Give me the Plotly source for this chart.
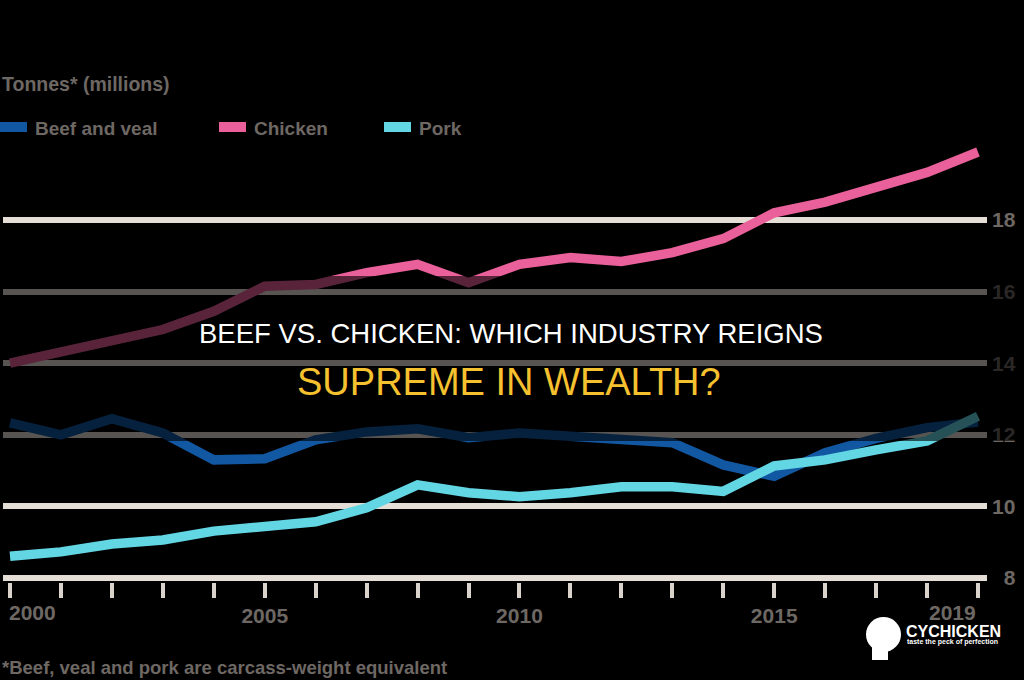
import plotly.graph_objects as go

# ---------------- data ----------------
years = list(range(2000, 2020))
beef_veal = [12.33, 12.0, 12.45, 12.05, 11.3, 11.33, 11.86, 12.08, 12.17, 11.92,
             12.05, 11.95, 11.86, 11.78, 11.16, 10.84, 11.5, 11.9, 12.2, 12.36]
chicken = [14.0, 14.32, 14.66, 14.94, 15.45, 16.15, 16.2, 16.53, 16.76, 16.25,
           16.76, 16.95, 16.84, 17.09, 17.48, 18.2, 18.5, 18.94, 19.33, 19.9]
pork = [8.61, 8.73, 8.95, 9.06, 9.31, 9.43, 9.57, 9.96, 10.6, 10.38,
        10.27, 10.38, 10.55, 10.55, 10.42, 11.13, 11.3, 11.58, 11.83, 12.52]
series_names = ["Beef and veal", "Chicken", "Pork"]
y_ticks = [8, 10, 12, 14, 16, 18]
x_label_years = [2000, 2005, 2010, 2015, 2019]
axis_title = "Tonnes* (millions)"
footnote = "*Beef, veal and pork are carcass-weight equivalent"
headline_1 = "BEEF VS. CHICKEN: WHICH INDUSTRY REIGNS"
headline_2 = "SUPREME IN WEALTH?"

# ---------------- style ----------------
W, H = 1024, 680
ML, MR, MT, MB = 3, 37, 141, 98
PW, PH = W - ML - MR, H - MT - MB
colors = {"Beef and veal": "#1257a2", "Chicken": "#e9609a", "Pork": "#63d6e4"}
GRID = "#e5ded6"
GREY = "#6e6864"
FONT = "Liberation Sans, Arial, sans-serif"


def px_x(px):
    return (px - ML) / PW


def px_y(py):
    return (MT + PH - py) / PH


fig = go.Figure()
for name, vals in zip(series_names, [beef_veal, chicken, pork]):
    fig.add_trace(go.Scatter(x=years, y=vals, mode="lines", name=name,
                             line=dict(color=colors[name], width=9.5),
                             showlegend=False, hoverinfo="skip"))

fig.update_layout(
    width=W, height=H,
    margin=dict(l=ML, r=MR, t=MT, b=MB, autoexpand=False),
    paper_bgcolor="black", plot_bgcolor="black",
    font=dict(family=FONT, color=GREY, size=21, weight="bold"),
    xaxis=dict(range=[1999.8626, 2019.1767], showgrid=False, zeroline=False,
               showline=False, tickvals=years,
               ticktext=[str(y) if y in (2005, 2010, 2015) else "" for y in years],
               ticks="outside", ticklen=15, tickwidth=4, tickcolor="#d9d3cb",
               tickfont=dict(size=21, color=GREY, family=FONT, weight="bold"),
               fixedrange=True),
    yaxis=dict(range=[7.888, 20.207], side="right", tickvals=y_ticks,
               ticktext=["\u2007" + str(v) if v < 10 else str(v) for v in y_ticks],
               showgrid=True, gridcolor=GRID, gridwidth=6, zeroline=False,
               showline=False, ticks="", ticklabelstandoff=4,
               tickfont=dict(size=21, color=GREY, family=FONT, weight="bold"),
               fixedrange=True),
)

shapes = []
annotations = []

# dark band overlay (as in the reference thumbnail)
shapes.append(dict(type="rect", xref="paper", yref="paper",
                   x0=px_x(0), x1=px_x(W), y0=px_y(441), y1=px_y(276),
                   fillcolor="rgba(0,0,0,0.62)", line=dict(width=0), layer="above"))

# axis title
annotations.append(dict(text=axis_title, xref="paper", yref="paper",
                        x=px_x(0), y=px_y(84), xanchor="left", yanchor="middle",
                        showarrow=False, font=dict(size=19.5, color=GREY, family=FONT, weight="bold")))

# custom legend
legend_pos = {"Beef and veal": 0, "Chicken": 219, "Pork": 384}
for name in series_names:
    x0 = legend_pos[name]
    shapes.append(dict(type="rect", xref="paper", yref="paper",
                       x0=px_x(x0), x1=px_x(x0 + 27), y0=px_y(132), y1=px_y(122),
                       fillcolor=colors[name], line=dict(width=0)))
    annotations.append(dict(text=name, xref="paper", yref="paper",
                            x=px_x(x0 + 33), y=px_y(128), xanchor="left", yanchor="middle",
                            showarrow=False, font=dict(size=19, color=GREY, family=FONT, weight="bold")))

# edge x labels
annotations.append(dict(text=str(x_label_years[0]), x=x_label_years[0], xref="x",
                        yref="paper", y=px_y(612), xanchor="left", yanchor="middle",
                        xshift=-3, showarrow=False,
                        font=dict(size=21, color=GREY, family=FONT, weight="bold")))
annotations.append(dict(text=str(x_label_years[-1]), x=x_label_years[-1], xref="x",
                        yref="paper", y=px_y(612), xanchor="right", yanchor="middle",
                        showarrow=False,
                        font=dict(size=21, color=GREY, family=FONT, weight="bold")))

# footnote
annotations.append(dict(text=footnote, xref="paper", yref="paper",
                        x=px_x(0), y=px_y(667), xanchor="left", yanchor="middle",
                        showarrow=False, font=dict(size=18.5, color=GREY, family=FONT, weight="bold")))

# headline overlay
annotations.append(dict(text=headline_1, xref="paper", yref="paper",
                        x=px_x(511), y=px_y(333), xanchor="center", yanchor="middle",
                        showarrow=False, font=dict(size=27.5, color="white", family=FONT, weight="normal")))
annotations.append(dict(text=headline_2, xref="paper", yref="paper",
                        x=px_x(509), y=px_y(382), xanchor="center", yanchor="middle",
                        showarrow=False, font=dict(size=38, color="#f6c12f", family=FONT, weight="normal")))

# logo
shapes.append(dict(type="circle", xref="paper", yref="paper",
                   x0=px_x(866), x1=px_x(901), y0=px_y(652), y1=px_y(617),
                   fillcolor="white", line=dict(width=0), layer="above"))
shapes.append(dict(type="rect", xref="paper", yref="paper",
                   x0=px_x(872), x1=px_x(888), y0=px_y(660), y1=px_y(645),
                   fillcolor="white", line=dict(width=0), layer="above"))
annotations.append(dict(text="CYCHICKEN", xref="paper", yref="paper",
                        x=px_x(904), y=px_y(631), xanchor="left", yanchor="middle",
                        showarrow=False, font=dict(size=16, color="white", family=FONT, weight="bold")))
annotations.append(dict(text="taste the peck of perfection", xref="paper", yref="paper",
                        x=px_x(952), y=px_y(642), xanchor="center", yanchor="middle",
                        showarrow=False, font=dict(size=7, color="white", family=FONT, weight="bold")))

fig.update_layout(shapes=shapes, annotations=annotations)
fig.write_html("out.html")
